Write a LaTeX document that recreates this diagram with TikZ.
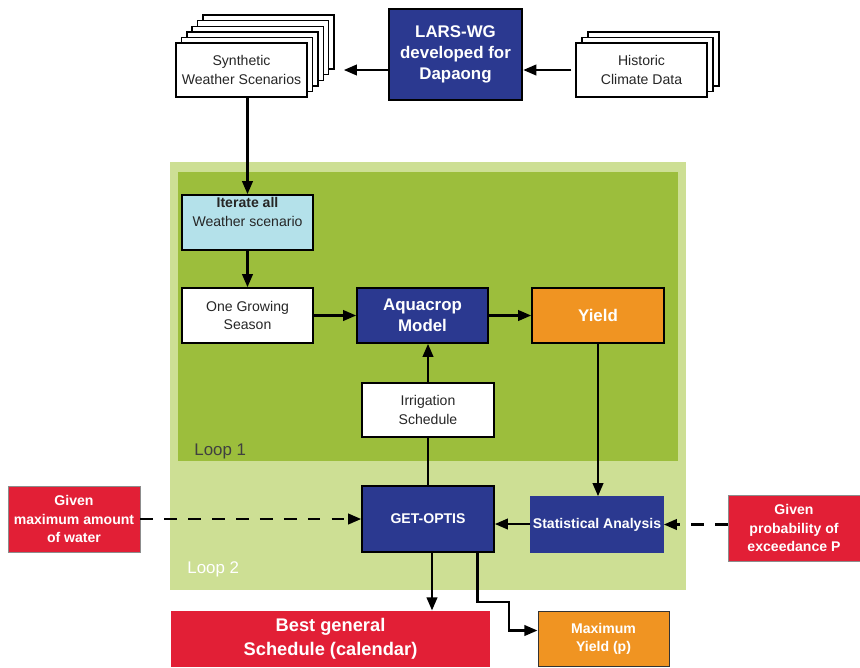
\documentclass[tikz,border=0pt]{standalone}
\usepackage{fontspec}
\setmainfont{Liberation Sans}
\usetikzlibrary{arrows.meta}
\definecolor{modelblue}{HTML}{2B3990}
\definecolor{givenred}{HTML}{E21F36}
\definecolor{yieldorange}{HTML}{F09422}
\definecolor{looppale}{HTML}{CDDF94}
\definecolor{loopgreen}{HTML}{9CBE3C}
\definecolor{iterblue}{HTML}{B4E1EA}

\begin{document}
\begin{tikzpicture}[x=0.025cm,y=-0.025cm,line width=1pt,
  box/.style={draw=black,line width=1pt,fill=white,align=center,text=black!85,
    font=\fontsize{10}{13}\selectfont,minimum width=3.275cm,minimum height=1.35cm,inner sep=1pt},
  bluebox/.style={box,fill=modelblue,text=white,font=\bfseries\fontsize{12}{15}\selectfont},
  redbox/.style={box,draw=black!45,line width=0.6pt,fill=givenred,text=white,
    font=\bfseries\fontsize{10}{13}\selectfont,minimum width=3.3cm,minimum height=1.65cm},
  flow/.style={-{Triangle[length=3.3mm,width=2.6mm]},line width=1.9pt},
  feed/.style={flow,dash pattern=on 9pt off 8pt}]
\useasboundingbox (0,0) rectangle (860,667);
% loop backgrounds
\fill[looppale] (170,162) rectangle (686,590);
\fill[loopgreen] (178,172) rectangle (678,461);
\node[anchor=base west,text=black!75,font=\fontsize{12}{14}\selectfont] (loopone) at (189,455) {Loop 1};
\node[anchor=base west,text=white,font=\fontsize{12}{14}\selectfont] (looptwo) at (182,573) {Loop 2};
% stacked sheets behind the weather and climate boxes
\foreach \i in {5,...,1}
  \draw[fill=white] ({176+5.4*\i},{43-5.6*\i}) rectangle +(131,54);
\foreach \i in {2,1}
  \draw[fill=white] ({576+6*\i},{43-5.6*\i}) rectangle +(131,54);
% top row
\node[box] (syn) at (241.5,70) {Synthetic\\Weather Scenarios};
\node[bluebox,line width=1.6pt,minimum width=3.325cm,minimum height=2.275cm] (lars) at (455.5,54.5) {LARS-WG\\developed for\\Dapaong};
\node[box] (hist) at (641.5,70) {Historic\\Climate Data};
% loop 1
\node[box,fill=iterblue,minimum height=1.375cm] (iter) at (247.5,222.5) {\textbf{Iterate all}\\Weather scenario\\[2pt]};
\node[box,minimum height=1.375cm] (season) at (247.5,315.5) {One Growing\\Season};
\node[bluebox,minimum height=1.375cm] (aqua) at (422.5,315.5) {Aquacrop\\Model};
\node[bluebox,fill=yieldorange,minimum width=3.3cm,minimum height=1.375cm] (yield) at (598,315.5) {Yield};
\node[box,minimum width=3.3cm] (irrig) at (428,410) {Irrigation\\Schedule};
% loop 2
\node[bluebox,font=\bfseries\fontsize{10}{13}\selectfont,minimum width=3.3cm,minimum height=1.65cm] (optis) at (428,519) {GET-OPTIS};
\node[bluebox,draw=modelblue,font=\bfseries\fontsize{10}{13}\selectfont,minimum width=3.3cm,minimum height=1.375cm] (stat) at (597,524.5) {Statistical Analysis};
\node[redbox] (maxwater) at (74,519) {Given\\maximum amount\\of water};
\node[redbox] (prob) at (794,528) {Given\\probability of\\exceedance P};
% results
\node[redbox,draw=none,font=\bfseries\fontsize{13}{17}\selectfont,minimum width=7.975cm,minimum height=1.4cm] (best) at (330.5,639) {Best general\\Schedule (calendar)};
\node[redbox,fill=yieldorange,draw=black!80,minimum width=3.275cm,minimum height=1.375cm] (maxyield) at (603.5,638.5) {Maximum\\Yield (p)};
\coordinate (bend) at (509,602);
% connectors
\draw[flow] (lars.west |- syn.east) -- ([xshift=0.9cm]syn.east);
\draw[flow] ([xshift=-0.1cm]hist.west) -- (hist.west -| lars.east);
\draw[flow] (iter.north |- syn.south) -- (iter.north);
\draw[flow] (iter) -- (season);
\draw[flow] (season) -- (aqua);
\draw[flow] (aqua) -- (yield);
\draw[flow] (irrig.north) -- (irrig.north |- aqua.south);
\draw[line width=1.9pt] (optis) -- (irrig);
\draw[flow] (yield.south) -- (yield.south |- stat.north);
\draw[flow] ([yshift=-0.125cm]stat.west |- optis.east) -- ([yshift=-0.125cm]optis.east);
\draw[feed] (maxwater.east) -- (optis.west);
\draw[feed] (prob.west |- stat.east) -- (stat.east);
\draw[flow] ([xshift=0.1cm]optis.south) -- ([xshift=0.1cm]optis.south |- best.north);
\draw[flow] ([xshift=-0.425cm]optis.south east) |- (bend) |- ([yshift=0.2cm]maxyield.west);
\end{tikzpicture}
\end{document}
